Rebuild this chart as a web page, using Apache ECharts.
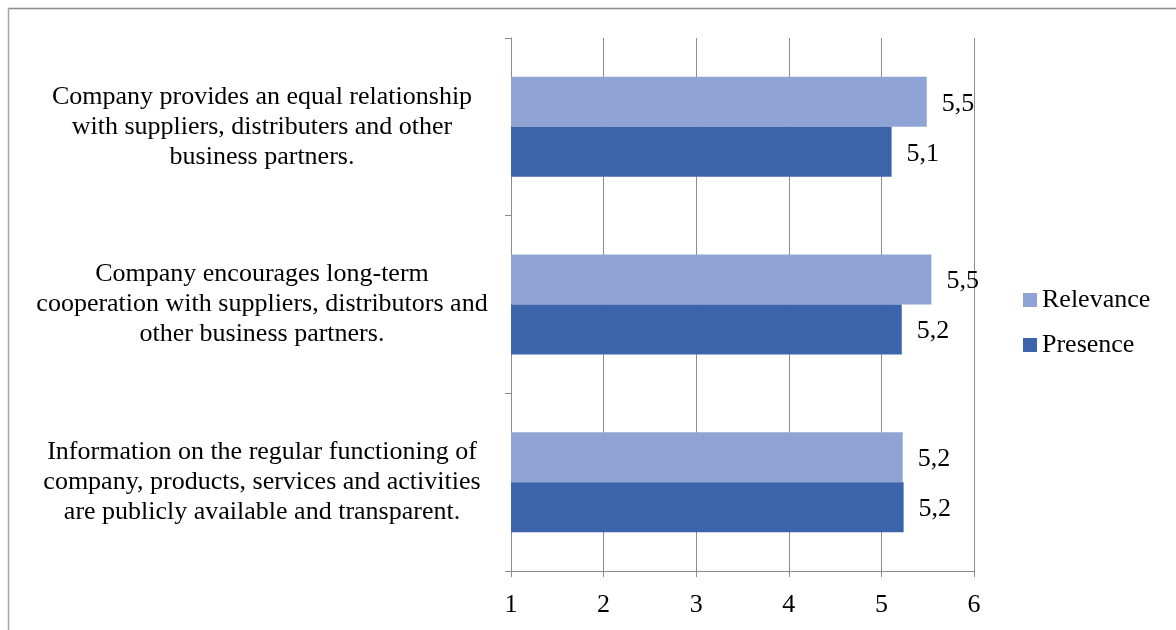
<!DOCTYPE html>
<html>
<head>
<meta charset="utf-8">
<script src="https://cdn.jsdelivr.net/npm/echarts@6/dist/echarts.min.js"></script>
<style>
  html, body { margin: 0; padding: 0; background: #fff; }
  #chart { width: 1176px; height: 630px; }
</style>
</head>
<body>
<div id="chart"></div>
<script>
// Statements, top to bottom
const categories = [
  'Company provides an equal relationship\nwith suppliers, distributers and other\nbusiness partners.',
  'Company encourages long-term\ncooperation with suppliers, distributors and\nother business partners.',
  'Information on the regular functioning of\ncompany, products, services and activities\nare publicly available and transparent.'
];
const seriesNames = ['Relevance', 'Presence'];
const relevance = [5.49, 5.54, 5.23];
const presence = [5.11, 5.22, 5.24];
const axisTicks = [1, 2, 3, 4, 5, 6];

const FONT = '"Liberation Serif", "Times New Roman", serif';
const FONT_SIZE = 26;
const GRID_COLOR = '#8c8c8c';

const chart = echarts.init(document.getElementById('chart'), null, { renderer: 'canvas' });

const valueLabel = {
  show: true,
  position: 'right',
  distance: 15,
  offset: [0, 2],
  fontFamily: FONT,
  fontSize: FONT_SIZE,
  color: '#000',
  formatter: p => p.value.toFixed(1).replace('.', ',')
};

chart.setOption({
  animation: false,
  backgroundColor: '#fff',
  graphic: [
    { type: 'line', shape: { x1: 8, y1: 8.5, x2: 1176, y2: 8.5 }, style: { stroke: '#8a8a8a', lineWidth: 1.5 } },
    { type: 'line', shape: { x1: 8.5, y1: 8, x2: 8.5, y2: 630 }, style: { stroke: '#a6a6a6', lineWidth: 1.5 } }
  ],
  grid: { left: 511, right: 202, top: 38, bottom: 59, containLabel: false },
  legend: {
    orient: 'vertical',
    left: 1023,
    top: 287,
    padding: 0,
    itemWidth: 14,
    itemHeight: 14,
    itemGap: 19,
    icon: 'rect',
    textStyle: { fontFamily: FONT, fontSize: FONT_SIZE, color: '#000' },
    data: seriesNames
  },
  xAxis: {
    type: 'value',
    min: axisTicks[0],
    max: axisTicks[axisTicks.length - 1],
    interval: 1,
    axisLine: { show: true, lineStyle: { color: GRID_COLOR, width: 1 } },
    axisTick: { show: true, length: 6, lineStyle: { color: GRID_COLOR } },
    axisLabel: { fontFamily: FONT, fontSize: FONT_SIZE, color: '#000', margin: 21 },
    splitLine: { show: true, lineStyle: { color: GRID_COLOR, width: 1 } }
  },
  yAxis: {
    type: 'category',
    inverse: true,
    data: categories,
    axisLine: { show: true, lineStyle: { color: GRID_COLOR, width: 1 } },
    axisTick: { show: true, length: 6, lineStyle: { color: GRID_COLOR } },
    axisLabel: {
      fontFamily: FONT,
      fontSize: FONT_SIZE,
      color: '#000',
      lineHeight: 30,
      align: 'center',
      padding: [4, 0, 0, 0],
      margin: 249
    },
    splitLine: { show: false }
  },
  series: [
    {
      name: seriesNames[0],
      type: 'bar',
      data: relevance,
      barWidth: 50,
      barGap: '0%',
      itemStyle: { color: '#8fa4d4' },
      label: valueLabel
    },
    {
      name: seriesNames[1],
      type: 'bar',
      data: presence,
      barWidth: 50,
      barGap: '0%',
      itemStyle: { color: '#3c64ab' },
      label: valueLabel
    }
  ]
});
</script>
</body>
</html>
